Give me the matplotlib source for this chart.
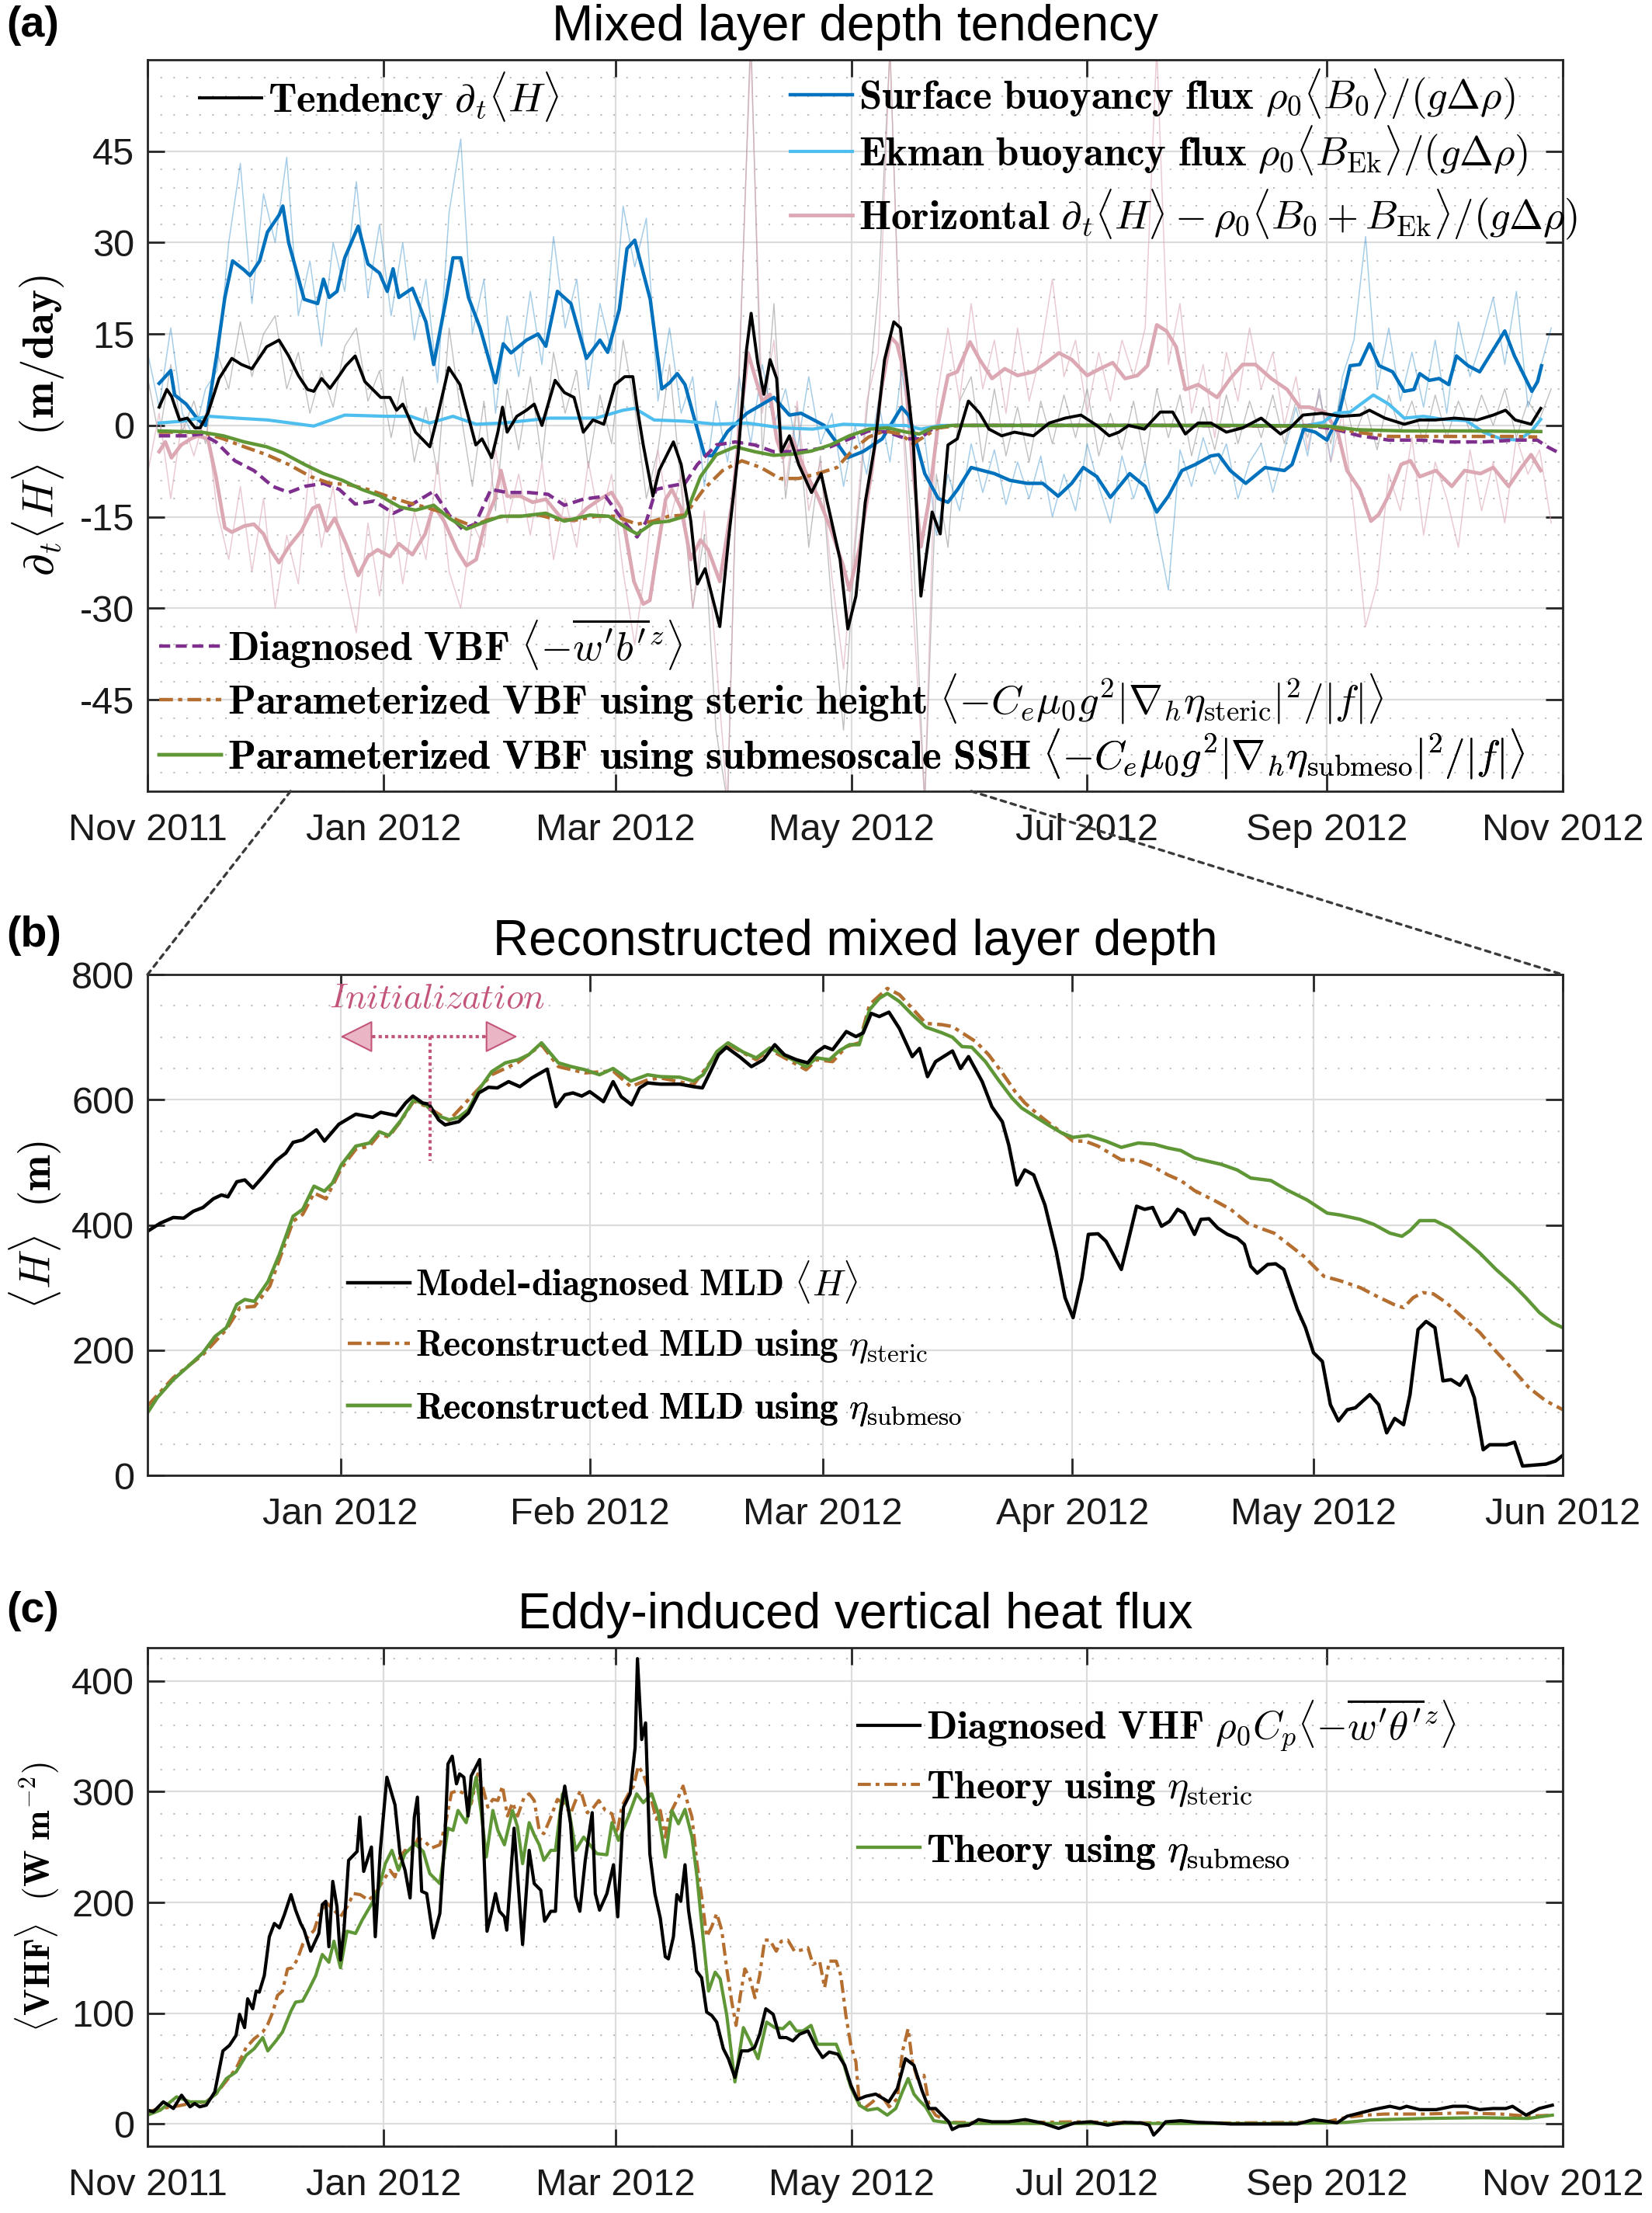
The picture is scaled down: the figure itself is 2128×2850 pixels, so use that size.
import numpy as np
import matplotlib
matplotlib.use('Agg')
import matplotlib.pyplot as plt
import matplotlib.dates as mdates
from matplotlib.ticker import MultipleLocator, FixedLocator
from matplotlib.patches import ConnectionPatch

plt.rcParams['font.family'] = ['Liberation Sans', 'DejaVu Sans']
plt.rcParams['mathtext.fontset'] = 'cm'
plt.rcParams['axes.unicode_minus'] = False

BASE_A = '2011-11-01'
BASE_B = '2011-12-08'

# ---------------- Panel (a) data (day offsets from 1 Nov 2011) ----------------
raw_days = np.arange(0, 364, 3)
a_sfc_raw = [12, 3, 16, 2, -2, 6, 9, 30, 43, 20,
             38, 30, 44, 18, 27, 13, 30, 22, 40, 21,
             33, 18, 30, 14, 24, 7, 35, 47, 15, 24,
             2, 18, 8, 22, 10, 31, 16, 24, 6, 20,
             12, 36, 26, 34, 4, 16, 2, 8, -10, 4,
             -6, 8, -3, 10, 0, 6, -4, 8, -3, 2,
             -10, 0, -8, 4, -6, 9, -3, -2, -18, -8,
             -14, -3, -11, -4, -13, -6, -12, -5, -15, -8,
             -14, -3, -10, -16, -5, -12, -6, -17, -27, -4,
             -10, -2, -8, -3, -12, -6, -3, -11, -4, 3,
             -5, 6, -6, 8, 14, 31, 6, 16, 4, 12,
             3, 14, 2, 17, 8, 14, 21, 10, 22, 3,
             9, 16]
a_tend_raw = [8, -2, 10, -1, 4, -3, 12, 6, 17, 8,
              15, 18, 6, 12, 2, 9, 3, 13, 16, 4,
              9, -2, 8, -6, 3, -8, 16, 2, -10, 4,
              -14, 6, -4, 8, -6, 12, 2, 9, -7, 5,
              -3, 14, 3, -12, -4, 10, -10, -30, -18, -50,
              -62, 8, 65, -5, 20, -12, 3, -20, -5, -30,
              -50, -20, 2, 22, 62, 5, -20, -62, -8, -20,
              4, 8, -6, 6, -5, 3, -6, 4, -3, 5,
              -2, 6, -5, 2, -4, 4, -6, 6, -2, 5,
              -5, 3, -4, 5, -3, 4, -2, 5, -3, 4,
              -2, 5, -3, 6, -2, 3, -4, 5, -1, 4,
              -3, 5, -2, 4, -1, 5, 0, 6, -2, 4,
              1, 6]
a_hor_raw = [-8, 2, -12, 1, -5, 2, -14, -22, -10, -24,
             -12, -30, -18, -26, -6, -20, -10, -25, -34, -16,
             -28, -12, -26, -14, -22, -6, -24, -30, -16, -20,
             -4, -16, -8, -18, -6, -22, -12, -20, -6, -16,
             -8, -24, -36, -22, -4, -16, -8, -30, -14, -38,
             -62, 10, 62, 2, 14, -10, 4, -14, -6, -25,
             -40, -18, 4, 12, 62, 4, -30, -62, 4, 16,
             4, 20, 6, 14, 2, 16, 4, 12, 24, 8,
             14, 2, 12, 4, 14, 8, 16, 62, 10, 20,
             2, 10, -2, 12, 4, 16, 6, 12, 0, 8,
             -4, 6, -6, 2, -14, -33, -26, -8, -14, -2,
             -18, -6, -12, -20, -4, -14, -6, -16, -2, -8,
             -4, -16]

a_sfc_day = [3, 6, 7, 10, 13, 15, 18, 20, 22, 25, 26.5, 29, 31, 34, 35, 36.5, 40.5, 44, 45.5, 47,
             49, 51, 54.5, 57, 60, 62, 63.5, 65, 68.5, 72, 74, 77, 79, 81, 83, 86, 90, 92, 94, 98,
             101, 103, 106, 109.5, 113.5, 117, 119, 122, 124, 126, 130, 133, 135, 137, 139, 144, 146, 150, 155, 162,
             166, 169, 175, 181, 185, 190, 195, 197, 201, 204.5, 207, 209.5, 213, 216, 219, 223, 227.5, 231.5, 235.5, 239,
             242, 245.5, 249, 254, 258, 261, 264, 267.5, 271, 275, 277, 280, 284, 289, 294, 296, 299, 302, 305, 308,
             311, 313.5, 316, 318.5, 322, 325, 327.5, 329, 331.5, 334, 336.5, 338.5, 341.5, 344.5, 348, 351, 353.5, 358, 359.5, 360.5]
a_sfc_val = [6.9, 9, 5, 3.5, 1, 0, 12, 21, 27, 25.5, 24.6, 27, 31.7, 34.5, 36, 30, 20.7, 20, 24, 21,
             22, 27.5, 32.7, 26.5, 25, 22, 25.7, 21, 22.5, 17, 10, 20, 27.5, 27.5, 21, 16, 7, 13.4, 11.9, 14,
             15, 13, 22, 20, 11, 14, 12, 19, 29, 30.4, 20.7, 6, 7, 8.5, 6.7, -4.8, -5, -1, 2, 4.6,
             1.7, 2, 0, -5.3, -4.3, -2.2, 3, 1.5, -7.9, -12, -12.6, -10.5, -6.9, -7.4, -7.9, -9, -9.5, -9.5, -11.6, -9.5,
             -6.9, -8.4, -11.8, -7.9, -10, -14.2, -11.6, -7.4, -6.4, -5, -4.8, -7.4, -9.5, -6.9, -7.4, -6.4, -0.6, -1.1, -2.4, 1.5,
             9.8, 10, 13.4, 9.8, 8.8, 5.6, 5.9, 8.5, 7.4, 7.7, 6.7, 11.4, 9.8, 8.8, 12.4, 15.5, 11.4, 5.6, 7.2, 9.8]

a_tend_day = [3, 5, 6.2, 8.3, 10.3, 12.3, 13.6, 15.6, 18.5, 21.8, 24.3, 27, 30.8, 34, 36.5, 39, 41.4, 43, 45, 47.2,
              49.6, 51.3, 53.7, 56.2, 60.3, 62.7, 64.4, 66, 69.3, 73, 75, 77.9, 80.8, 83.2, 84.9, 86.5, 89, 90.6, 91.8, 93,
              95.5, 98, 100, 102, 105.4, 107.8, 110.3, 112.7, 115.2, 118, 120.9, 123.4, 125.5, 126.6, 128.2, 130.7, 132.3, 136, 138, 140.5,
              142.2, 144.2, 148, 150.4, 152.8, 154.9, 156.1, 157.8, 159.4, 161, 162.7, 163.9, 166, 168.4, 171.7, 174.2, 175.8, 179.1, 181.1, 183.2,
              185.6, 188.1, 190.6, 193, 194.7, 196.3, 198, 200, 202.9, 205, 207, 209.4, 212.3, 215.2, 217.6, 220.9, 224.2, 229.1, 233.2, 237.3,
              241.4, 245.5, 248.7, 251.2, 253.7, 257.8, 261.9, 265.1, 268.4, 271.7, 275, 279, 283.2, 288, 293, 295.5, 298.8, 303.7, 308.6, 313.5,
              316, 320, 325, 329, 333, 338, 343.9, 348, 351.2, 353.7, 357.8, 360.3]
a_tend_val = [3, 5.9, 4.8, 0.9, 1.2, -0.4, -0.4, 2, 7.7, 11, 10, 9.3, 12.9, 14, 11.4, 8.2, 5.9, 5.6, 7.7, 6.1,
              8.2, 9.8, 11.4, 7.2, 4.6, 4.6, 2.5, 3.5, -1.1, -3.5, 1.5, 9.5, 6.7, 0.9, -3.2, -2.2, -5.3, -1.1, 3, -1.1,
              1.5, 2.5, 3.5, 0, 7.4, 5.4, 4.6, -1.1, 0.9, 0.2, 6.7, 8, 8, 3, -3.2, -11.6, -7.4, -2.7, -6.4, -15.7,
              -26, -23.5, -33, -17.8, -4.3, 12.4, 18.4, 10.3, 5.1, 10.8, 7.7, -4.3, -1.7, -6.4, -11, -7.9, -12.6, -22, -33.4, -28,
              -12.6, -3.2, 10.8, 17, 16, 7.7, -2.2, -28, -14.2, -17.8, -3.2, -2.2, 4, 2, -0.6, -1.7, -1.1, -1.7, 0.4, 1.2,
              1.7, 0, -1.7, -1.1, 0, -0.6, 2.2, 2.2, -1.4, 0.4, 0.4, -1.1, -0.4, 1.2, -1.4, -0.4, 1.7, 2, 1.5, 1.7,
              2.5, 1.2, 0.2, 0.9, 0.9, 1.2, 0.9, 1.7, 2.5, 0.9, 0.2, 2.8]

a_ek_day = [3, 9, 16, 23, 31, 43, 51, 62, 68, 73, 79, 85, 92, 104, 116, 123, 126, 131, 139, 147,
            155, 164, 172, 180, 188, 196, 200, 205, 220, 240, 260, 280, 300, 304, 307, 311, 317, 321, 325, 330,
            335, 341, 345.5, 350, 354.5, 357.8, 360.3]
a_ek_val = [0.4, 0.7, 1.5, 1.2, 0.9, -0.1, 1.7, 1.5, 1.5, 0.4, 1.5, 0.2, 0.4, 1.2, 1.2, 2.5, 2.8, 0.9, 0.7, 0.2,
            0.4, -0.4, -0.6, 0.2, 0, 0, -0.6, 0, 0, 0, 0, 0, 0, 0.5, 2, 2.2, 5, 3.5, 1.2, 1.5,
            1, 0.8, -1.1, -2.2, -2.4, -1, 1]

a_hor_day = [3, 4.6, 6.2, 8.7, 11.2, 13, 15.6, 17.7, 20, 21.8, 25, 27.5, 30, 31.6, 34, 36.5, 39.8, 42.7, 44.3, 46.4,
             48.4, 51.3, 54.5, 57, 59.5, 62.7, 65, 68.5, 71.8, 74, 76.7, 80, 82.5, 85, 87.4, 89.8, 91.4, 93, 96.4, 99.6,
             103, 107, 110.3, 113.6, 117, 120, 122.5, 125.8, 128.2, 129.9, 131.5, 134, 135.6, 138, 140.5, 143, 145, 148, 151.2, 153.7,
             155.3, 157, 159, 161, 162.7, 164.3, 166.8, 170, 173.3, 176.6, 179.9, 181.5, 184, 187.3, 189.7, 192.2, 193.8, 195.9, 198, 200,
             202, 204.5, 207, 209.4, 212.7, 215.2, 218.4, 221.7, 225, 229.1, 232.4, 235.7, 239, 243, 246.3, 249.6, 252.8, 256, 258.6, 261,
             263.5, 266, 268.4, 271.7, 276.6, 280, 283.2, 286.5, 290.6, 294.7, 298, 300.4, 304.5, 307.8, 310.2, 313.5, 316.4, 318.4, 320.9, 324.2,
             326.6, 329, 333.2, 337.3, 340.6, 344.7, 348, 352, 355.3, 357.8, 360.3]
a_hor_val = [-4.3, -2.7, -5.3, -3.2, -2.2, -1.7, -2.2, -8.4, -16.8, -17.5, -16.5, -16.2, -17.8, -20.2, -22.5, -19.9, -17.3, -13.6, -13.1, -17.3,
             -15.2, -19.4, -24.6, -21.5, -20.4, -21.5, -19.4, -21.2, -17.8, -13.1, -15.7, -20.4, -23, -22, -15.7, -12.1, -7.4, -11.6, -11.6, -12.6,
             -12.1, -15.2, -15.7, -13.6, -12.1, -11, -13.6, -25.6, -29.3, -28.7, -22, -12.1, -10.5, -13.6, -22, -18.8, -20.4, -25.6, -12.6, 3,
             11.9, 8.2, 4, 5.1, -2.2, -5.3, -2.2, -7.4, -11.6, -16.8, -23, -27, -20.4, -7.4, 5.6, 14.5, 13.4, 8.2, -7.4, -19.9,
             -12.6, 0.4, 8.2, 8.8, 13.7, 10.8, 7.7, 9.3, 8.2, 8.8, 10.3, 11.9, 10.8, 8.2, 9.3, 10.3, 7.7, 8.2, 9.8, 16.5,
             15.5, 12.9, 5.9, 6.7, 4.6, 7.7, 10, 10, 7.7, 5.9, 3, 3, 2.2, -1.1, -7.4, -10.5, -15.7, -14.6, -11.6, -6.4,
             -5.8, -8.4, -7.4, -10, -7.4, -7.9, -6.9, -10, -6.9, -4.8, -7.4]

a_vbf_day = [3, 10, 14, 17.7, 22.6, 27.5, 32.4, 36.5, 40.6, 45.5, 49.6, 53.7, 58.6, 63.6, 68.5, 74, 78, 81.4, 84.7, 88.8,
             93, 98.6, 103.6, 107.8, 112.7, 118.4, 122.5, 126.6, 129, 131.5, 134.8, 139, 142.2, 147.1, 152, 157, 161.9, 166.8, 171.7, 176.6,
             181.5, 186.5, 191.4, 196.3, 199.6, 202.9, 207.8, 230, 260, 290, 300.4, 307, 313.5, 321, 329, 337, 345.5, 353.7, 359.4, 362, 364.4]
a_vbf_val = [-1.7, -1.7, -1.4, -2.7, -5.8, -7.4, -10, -11, -10, -9.5, -10.5, -12.9, -12.4, -14.4, -12.9, -10.8, -14.7, -17, -16.2, -10.5,
             -11, -11, -11.3, -13.1, -12.1, -11.6, -15.2, -18.3, -15.7, -10.5, -10, -9.5, -6.4, -3.2, -2.7, -3.2, -4.3, -4.3, -4, -3.5,
             -2.2, -0.9, -1.1, -2.2, -2.2, -0.6, 0, 0, 0, -0.1, 0, -0.6, -1.7, -2.4, -2.4, -2.7, -2.7, -2.4, -2.4, -3.5, -4.3]

a_ste_day = [3, 14, 19.6, 25, 30.8, 36.5, 42.2, 47.2, 52, 57, 62, 67, 71.8, 76, 80, 84, 88, 92, 96.4, 101.3,
             106.2, 111, 116, 121, 126.6, 130.7, 134.8, 139, 143.8, 148.7, 153.7, 158.6, 163.5, 168.4, 173.3, 178.3, 182.4, 186.5, 190.6, 194.7,
             198, 201.2, 204.5, 210, 240, 270, 300, 304.5, 312.7, 321, 333, 345.5, 353.7, 359.4]
a_ste_val = [-1.1, -1.1, -2.2, -3.5, -4.8, -6.4, -8.4, -9.5, -9.7, -10.5, -11.6, -12.6, -13.4, -14.2, -15.5, -16.5, -15.5, -14.9, -14.9, -14.7,
             -15.5, -15.5, -14.9, -14.9, -16.2, -15.7, -14.9, -14.7, -10.5, -7.4, -5.8, -6.9, -8.7, -8.7, -7.9, -6.9, -4, -1.9, -0.9, -1.4,
             -3, -1.7, -0.4, 0, 0, 0, -0.1, -0.2, -1.1, -1.8, -1.8, -1.8, -1.8, -1.9]

a_sub_day = [3, 14, 19.6, 25, 30.8, 35, 40.6, 45.5, 50.4, 55.4, 60.3, 65.3, 69.3, 74, 78, 82.5, 86.5, 91.4, 96.4, 103,
             107.8, 114.4, 119.3, 124.3, 126.6, 130.7, 134.8, 139, 143, 147.1, 152, 157, 161.9, 166.8, 171.7, 176.6, 181.5, 186.5, 191.4, 196.3,
             199.6, 202.9, 208, 240, 280, 305, 312.7, 325, 341, 360.3]
a_sub_val = [-0.9, -1.1, -1.7, -2.7, -3.5, -4.5, -6.4, -7.9, -9, -10.5, -11.6, -13.4, -13.9, -13.1, -15.2, -17, -16, -14.9, -14.9, -14.4,
             -15.7, -14.7, -14.9, -17, -17.8, -16, -15.7, -14.9, -8.4, -4.8, -3.5, -4.3, -4.9, -4.7, -4.2, -3.2, -1.7, -0.6, -0.4, -1.1,
             -1.4, -0.4, 0, 0, 0, -0.1, -0.7, -0.9, -0.9, -1]

# ---------------- Panel (b) data (day offsets from 8 Dec 2011) ----------------
b_mld_day = [0, 1.6, 3.2, 4.5, 5.7, 6.9, 8.2, 9.2, 10, 11.1, 12.1, 13.1, 14.4, 16, 17.2, 18.1, 19.3, 21, 22, 23.8,
             25.9, 28, 29, 30.9, 32.1, 33, 34.2, 35, 36.2, 37, 38.7, 39.9, 41.2, 42.4, 43.5, 44.9, 46.3, 47.8, 49.7, 50.8,
             51.9, 52.9, 54, 55, 56.7, 57.9, 58.9, 60.2, 61.2, 62.2, 63.8, 66.2, 67.9, 69, 70, 71, 72, 73.7, 75.1, 76.6,
             78, 79.2, 80.7, 82.1, 83.2, 84.2, 85.2, 86.9, 88.1, 89, 90, 91, 92.2, 93.5, 95.1, 96, 97, 98, 100.1, 101.1,
             102.1, 103.8, 105, 106.3, 107.1, 108.1, 109.1, 110.2, 111.6, 113, 114.1, 115.1, 116.2, 117, 118.2, 119.2, 121.1, 123, 124, 125,
             126.1, 127.1, 128.1, 128.9, 130.2, 131, 132, 133.1, 134.3, 135.5, 136.4, 137.2, 138, 139.3, 140.3, 141.3, 143, 144, 145, 146.1,
             147.1, 148.1, 149.2, 150.2, 152, 153.1, 154.1, 155.1, 156.2, 157, 158, 159, 160.1, 161.1, 162.1, 163.2, 164, 165, 166.1, 166.9,
             169, 170, 171, 173.9, 175.1, 176.2]
b_mld_val = [390, 403, 412, 411, 422, 428, 442, 448, 445, 469, 472, 459, 478, 503, 515, 532, 536, 552, 534, 561,
             577, 572, 580, 575, 595, 606, 595, 593, 568, 560, 565, 579, 611, 620, 619, 629, 621, 635, 649, 589,
             608, 611, 606, 613, 597, 629, 605, 592, 619, 627, 625, 625, 621, 619, 645, 672, 684, 668, 653, 664,
             688, 672, 664, 659, 676, 685, 680, 709, 701, 707, 738, 733, 740, 714, 669, 682, 637, 661, 678, 650,
             669, 629, 589, 565, 528, 464, 488, 480, 432, 358, 284, 252, 315, 385, 386, 374, 329, 430, 425, 428,
             398, 406, 425, 419, 385, 409, 410, 395, 385, 379, 369, 334, 323, 337, 338, 329, 265, 236, 196, 182,
             113, 87, 105, 108, 129, 113, 68, 91, 81, 129, 233, 246, 236, 151, 153, 144, 159, 124, 41, 49,
             49, 53, 15, 18, 23, 34]

b_sub_day = [0, 1.2, 3.2, 5.3, 6.9, 8.4, 9.8, 11.1, 12.1, 13.3, 15, 16.4, 18.1, 19.3, 20.7, 22, 23, 24.1, 25.9, 27.6,
             28.8, 30, 31.5, 33.1, 34.6, 35.8, 37.5, 38.7, 39.9, 41.2, 42.8, 44.5, 46.1, 47.4, 49, 51.1, 52.7, 54.4, 56.2, 57.9,
             60.1, 62.2, 63.8, 66.2, 67.9, 69.1, 70.8, 72.2, 74.1, 75.7, 77.4, 79, 80.7, 81.9, 83.2, 84.8, 86, 87.3, 88.5, 89.8,
             91, 92, 93.5, 95.1, 96.8, 98.8, 100.1, 101.3, 102.5, 104.2, 105.8, 107.5, 108.7, 110.4, 112, 113.7, 115.1, 117, 119.2, 121.1,
             123.2, 125.2, 126.9, 128.5, 130.2, 131.8, 133.5, 135.5, 137.2, 139.7, 141.7, 144.2, 146.7, 148.3, 150.8, 152.5, 154.5, 156, 157, 158.2,
             160.1, 162, 164, 165.7, 167.7, 169.8, 171.4, 173.1, 174.7, 176]
b_sub_val = [100, 124, 153, 177, 196, 222, 236, 273, 281, 278, 310, 353, 414, 425, 462, 454, 467, 496, 526, 531,
             549, 543, 567, 600, 592, 576, 568, 572, 584, 616, 645, 659, 664, 672, 691, 659, 653, 648, 640, 650,
             630, 640, 637, 636, 630, 640, 677, 691, 676, 667, 683, 672, 661, 653, 667, 664, 678, 688, 688, 744,
             762, 770, 757, 736, 716, 707, 700, 685, 684, 661, 632, 603, 587, 573, 560, 547, 540, 543, 534, 524,
             531, 529, 523, 519, 507, 502, 497, 488, 475, 471, 456, 440, 419, 416, 409, 401, 387, 382, 391, 407,
             407, 395, 374, 355, 329, 305, 284, 260, 244, 236]

b_ste_day = [0, 3.2, 6.9, 9.8, 11.5, 13.3, 15.2, 16.4, 18.1, 19.3, 20.7, 22.2, 24.1, 25.9, 27.6, 28.8, 30, 31.5, 33.1, 34.6,
             37.5, 42.8, 46.1, 49, 51.1, 54.4, 57.9, 60.1, 62.2, 63.8, 67.9, 70.8, 72.2, 75.7, 77.4, 81.9, 83.2, 85.2, 86.9, 88.5,
             89.8, 92, 93.5, 95.1, 96.8, 98.8, 100.1, 101.3, 103, 104.6, 106.3, 107.9, 109.1, 110.8, 112.4, 114.1, 115.1, 116.6, 118.2, 121.1,
             123, 124.8, 126.9, 128.5, 130.2, 132.7, 134.7, 136.8, 138.8, 140.1, 141.7, 143.8, 146.3, 148.3, 150.8, 152.9, 155, 156.2, 157.4, 158.6,
             159.9, 161.5, 163.6, 165.7, 167.7, 169.8, 171.8, 173.9, 176]
b_ste_val = [111, 156, 193, 233, 268, 270, 302, 345, 406, 417, 451, 442, 491, 521, 526, 545, 541, 566, 598, 590,
             567, 640, 660, 688, 653, 643, 646, 621, 632, 635, 624, 674, 688, 664, 680, 648, 664, 661, 685, 691,
             752, 778, 768, 746, 722, 720, 717, 707, 693, 672, 643, 613, 595, 576, 560, 544, 534, 534, 526, 504,
             504, 495, 480, 471, 455, 439, 425, 403, 393, 387, 371, 350, 318, 311, 300, 286, 273, 268, 284, 292,
             290, 276, 252, 228, 198, 169, 140, 119, 105]

# ---------------- Panel (c) data (day offsets from 1 Nov 2011) ----------------
c_vhf_day = [0, 1.5, 4.1, 6.7, 8.8, 11, 12.2, 13.5, 15.2, 17.4, 19.5, 21.2, 22.9, 23.8, 25.1, 25.9, 27.2, 28.1, 28.9, 30.2,
             31.5, 32.8, 34.1, 35.4, 37.1, 38.3, 39.6, 40.5, 42.2, 44.3, 45.2, 46.1, 46.9, 47.9, 49, 49.9, 50.8, 52, 54.2, 54.9,
             55.9, 57.9, 58.9, 60.2, 61.9, 64, 65.3, 66.6, 67.9, 69, 69.8, 70.9, 72.2, 73.9, 75.6, 76.9, 77.7, 78.8, 79.9, 80.7,
             81.8, 82.9, 83.7, 85.9, 86.7, 87.8, 88.9, 90, 91, 92.3, 92.9, 94.8, 97, 98.7, 100, 101.7, 102.7, 104.3, 105.5, 106.8,
             107.9, 109.4, 110.7, 111.8, 113.2, 115, 115.8, 116.9, 118.8, 120.5, 121.6, 123.1, 124.8, 126.1, 126.7, 127.8, 128.8, 129.9, 131.2, 132.6,
             133.9, 134.7, 136, 136.9, 137.9, 139, 139.9, 141.2, 142, 143.3, 144.6, 145.9, 147.2, 148.9, 150.2, 151.9, 153.6, 155.3, 157, 158.3,
             159.9, 161.8, 163.5, 165.2, 166.9, 168.6, 170.8, 172.9, 174.6, 176.3, 178.5, 180.3, 181.9, 183.6, 185.7, 188.3, 191.7, 193.9, 196, 198.2,
             200.3, 202.1, 203.8, 205.5, 207.2, 208.1, 209.8, 212.4, 214.9, 218.4, 222.7, 227, 231.3, 235.6, 239.8, 244, 248.3, 252.6, 256.9, 259,
             260.2, 261.6, 263.3, 267.2, 271.5, 275.8, 280.1, 284.4, 288.7, 293, 297.3, 301.6, 305.9, 307.6, 310.2, 313.6, 317, 321.3, 323.9, 325.6,
             329, 333.3, 337.6, 341, 344.5, 347.9, 351.3, 353, 356.5, 359.9, 363.3]
c_vhf_val = [12.5, 11, 20, 14, 26, 15.5, 18.5, 15.5, 17, 29, 66, 71, 80, 99, 87, 113, 104, 120, 119, 134,
             169, 181, 177, 189, 207, 193, 181, 175, 156, 172, 198, 201, 160, 219, 196, 148, 175, 238, 246, 277,
             228, 250, 169, 247, 313, 288, 244, 229, 204, 277, 295, 210, 208, 168, 190, 259, 325, 332, 307, 316,
             313, 278, 314, 329, 271, 174, 190, 208, 192, 187, 175, 267, 162, 247, 217, 211, 183, 192, 192, 280,
             305, 271, 205, 192, 238, 281, 208, 193, 208, 234, 187, 286, 298, 340, 420, 347, 362, 244, 208, 186,
             151, 149, 169, 207, 201, 234, 193, 162, 138, 132, 101, 98, 92, 68, 59, 42, 66, 66, 69, 81,
             104, 99, 78, 78, 75, 81, 84, 69, 60, 65, 63, 53, 35, 22, 25, 27, 20, 32, 59, 53,
             30, 14, 14, 8, 2, -5, -2, -1, 4, 2, 2, 4, 1, -4, 1, 2, -1, 1.5, 1, -1,
             -10, -5, 2, 3, 1.5, 1, 0, 0, 0, 0, 0, 4, 2, 1, 7, 10, 13, 16, 14, 16,
             13, 13, 16, 16, 13, 14, 14, 16, 8, 14, 17]

c_ste_day = [0, 3.3, 6.7, 11, 15.2, 17.8, 20.4, 22.9, 25.5, 27.6, 29.8, 31.1, 32.4, 33.6, 34.9, 36.2, 37.5, 38.8, 40.1, 41.3,
             43.1, 44.8, 46.5, 48.2, 49.9, 51.6, 53.3, 55, 57.2, 58.9, 61, 62.7, 64, 65.3, 66.6, 68.3, 70, 71.7, 73.4, 75.6,
             76.9, 78.6, 80.3, 82, 83.7, 85.4, 86.7, 88, 89.3, 90.6, 91.8, 93.1, 94.4, 95.7, 97.4, 98.7, 100, 101.3, 102.5, 104.3,
             106, 107.7, 109.4, 110.7, 112, 113.7, 115.4, 116.7, 118.4, 120.1, 121.4, 122.7, 124.4, 125.7, 126.9, 128.2, 129.9, 131.6,
             132.6, 133.9, 134.7, 136, 137.3, 138.5, 139.5, 140.8, 142.1, 143.3, 144.6, 145.9, 147.2, 148.5, 149.8, 151.1, 152.2, 153.3, 154.5, 155.8,
             157.1, 158.3, 159.6, 160.9, 162.6, 163.9, 165.6, 167.3, 169.1, 170.8, 172.1, 173.8, 175.1, 176.3, 178.1, 179.3, 180.6, 181.9, 183.2, 184.1,
             185.3, 187.5, 189.6, 191.8, 193.9, 195.2, 196.7, 197.8, 199.1, 200.8, 202.1, 203.8, 205.5, 208.1,
             220, 240, 260, 280, 300, 305, 310, 315, 320, 330, 340, 350, 357, 363.3]
c_ste_val = [11, 14, 15.5, 18.5, 20, 27.5, 39, 50, 69, 77, 83, 90, 101, 116, 120, 140, 141, 149, 162, 168,
             175, 193, 199, 193, 187, 196, 208, 207, 202, 208, 220, 229, 223, 241, 247, 244, 258, 255, 249, 252,
             268, 299, 301, 298, 289, 316, 304, 286, 293, 292, 305, 278, 290, 278, 295, 298, 292, 265, 262, 277,
             293, 289, 280, 292, 301, 281, 286, 292, 283, 280, 262, 287, 298, 305, 323, 316, 298, 275,
             283, 259, 277, 286, 295, 305, 292, 277, 235, 205, 169, 178, 190, 175, 140, 110, 89, 116, 140, 131,
             114, 134, 166, 166, 156, 165, 166, 156, 157, 159, 144, 147, 123, 147, 147, 134, 98, 71, 56, 17,
             14, 20, 27, 15.5, 23, 65, 86, 56, 41, 44, 17, 8, 5, 1.5,
             1, 2, 1, 1, 1.5, 2, 6, 8, 9, 9, 10, 9, 7, 8]

c_sub_day = [0, 3.3, 7.5, 11, 15.2, 17.8, 20.4, 22.9, 25.5, 27.6, 29.8, 31.1, 33.2, 34.9, 37.1, 38.3, 40.1, 41.8, 43.5, 45.2,
             46.9, 48.2, 49.9, 51.6, 53.8, 55.5, 58, 59.7, 61.5, 63.2, 64.9, 66.6, 69.2, 71.3, 73, 75.6, 77.7, 79, 80.3, 82.4,
             85, 86.3, 87.6, 89.3, 90.6, 92.3, 94.4, 95.7, 97, 98.7, 100, 101.3, 102.5, 104.3, 105.5, 107.3, 109, 110.7, 112.8, 116.2,
             118.8, 120.1, 121.8, 124.4, 126.5, 128.2, 130.4, 132.1,
             133.9, 135.6, 137.3, 139, 140.8, 142.1, 143.3, 145.1, 146.8, 148.1, 149.8, 151.9, 154.1, 155.8, 157.9, 160.1, 162.2, 164.3, 166.1, 167.8,
             169.5, 171.6, 173.3, 175.5, 178.1, 179.8, 181.9, 184.1, 186.2, 188.8, 191.3, 193.5, 195.2, 196.7, 198.2, 199.5, 201.2, 203.3, 206.3, 210,
             230, 250, 270, 290, 305, 310, 316, 330, 345, 357, 363.3]
c_sub_val = [8, 12.5, 24.5, 20, 20, 27.5, 41, 47, 62, 68, 78, 66, 75, 83, 102, 110, 111, 122, 134, 153,
             146, 165, 141, 174, 172, 184, 199, 211, 235, 247, 229, 244, 253, 246, 226, 217, 267, 265, 283, 272,
             313, 281, 241, 283, 265, 252, 283, 268, 235, 272, 261, 252, 238, 247, 247, 298, 283, 247, 259, 244,
             243, 272, 256, 278, 298, 290, 298, 280,
             241, 283, 271, 284, 259, 223, 181, 120, 137, 131, 98, 38, 87, 75, 59, 92, 87, 86, 92, 84,
             84, 89, 72, 72, 72, 57, 33, 17, 12.5, 14, 8, 14, 29, 41, 27, 21.5, 15.5, 3, 1.5, 0.5,
             0.5, 0.5, 0.5, 0.5, 1, 1.5, 3.6, 5, 5.7, 5, 8]

a_yticks = [-45, -30, -15, 0, 15, 30, 45]

# ---------------- Styling ----------------
C_BLUE = '#0072BD'
C_CYAN = '#4DBEEE'
C_PINK = '#dba8b4'
C_PURPLE = '#7E2F8E'
C_BROWN = '#b46e30'
C_GREEN = '#5f9636'
C_INIT = '#c4557a'
DASH = (0, (3.2, 1.6))
DASHDOT = (0, (4, 1.5, 1.2, 1.5))

TICK_FS = 35
TITLE_FS = 46


def dates(base, days):
    d = np.asarray(days, dtype=float)
    return np.datetime64(base, 's') + np.round(d * 86400).astype('timedelta64[s]')


def style_axes(ax, yminor):
    ax.set_axisbelow(True)
    ax.yaxis.set_minor_locator(MultipleLocator(yminor))
    ax.grid(True, which='major', color='#dcdcdc', lw=1.6)
    ax.grid(True, which='minor', axis='y', color='#bdbdbd', lw=1.5, linestyle=(0, (1, 7)))
    ax.tick_params(which='major', direction='in', length=16, width=2, top=True, right=True,
                   labelsize=TICK_FS, colors='#262626')
    ax.tick_params(axis='x', pad=20)
    ax.tick_params(axis='y', pad=12)
    ax.tick_params(which='minor', length=0)
    for s in ax.spines.values():
        s.set_linewidth(2)
        s.set_color('#262626')
    for lab in ax.get_xticklabels() + ax.get_yticklabels():
        lab.set_color('#1a1a1a')


def leg1(ax, handle, label, x, y, fs):
    hl = 80.0 / (fs * 100.0 / 72.0)
    lg = ax.legend([handle], [label], loc='center left', bbox_to_anchor=(x, y), frameon=False,
                   handlelength=hl, handletextpad=0.15, borderpad=0, borderaxespad=0,
                   prop=dict(family='DejaVu Serif', weight='bold', size=fs))
    ax.add_artist(lg)
    return lg


fig = plt.figure(figsize=(21.28, 28.5), dpi=100)
L, W = 0.0893, 0.8567
ax_a = fig.add_axes([L, 0.6425, W, 0.3305])
ax_b = fig.add_axes([L, 0.3333, W, 0.2263])
ax_c = fig.add_axes([L, 0.0302, W, 0.2253])

# ---------------- Panel (a) ----------------
FS_A = 38
ax = ax_a
ax.plot(dates(BASE_A, raw_days), a_tend_raw, color='0.45', lw=1.0, alpha=0.45)
ax.plot(dates(BASE_A, raw_days), a_sfc_raw, color=C_BLUE, lw=1.1, alpha=0.35)
ax.plot(dates(BASE_A, raw_days), a_hor_raw, color=C_PINK, lw=1.1, alpha=0.6)
h_hor, = ax.plot(dates(BASE_A, a_hor_day), a_hor_val, color=C_PINK, lw=3.4)
h_sfc, = ax.plot(dates(BASE_A, a_sfc_day), a_sfc_val, color=C_BLUE, lw=3.2)
h_ek, = ax.plot(dates(BASE_A, a_ek_day), a_ek_val, color=C_CYAN, lw=3.0)
h_vbf, = ax.plot(dates(BASE_A, a_vbf_day), a_vbf_val, color=C_PURPLE, lw=3.2, linestyle=DASH)
h_ste, = ax.plot(dates(BASE_A, a_ste_day), a_ste_val, color=C_BROWN, lw=3.2, linestyle=DASHDOT)
h_sub, = ax.plot(dates(BASE_A, a_sub_day), a_sub_val, color=C_GREEN, lw=3.2)
h_tend, = ax.plot(dates(BASE_A, a_tend_day), a_tend_val, color='black', lw=2.8)
ax.set_xlim(np.datetime64('2011-11-01'), np.datetime64('2012-11-01'))
ax.set_ylim(-60, 60)
ax.yaxis.set_major_locator(FixedLocator(a_yticks))
ax.xaxis.set_major_locator(mdates.MonthLocator(bymonth=[1, 3, 5, 7, 9, 11]))
ax.xaxis.set_major_formatter(mdates.DateFormatter('%b %Y'))
style_axes(ax, 3)
ax.set_title('Mixed layer depth tendency', fontsize=TITLE_FS, pad=18)
ax.set_ylabel(r'$\partial_t\langle H\rangle\ \ \mathbf{(m/day)}$', fontsize=41)
ax.yaxis.set_label_coords(-0.057, 0.5)

leg1(ax, h_tend, r'$\mathbf{Tendency}\ \partial_t\langle H\rangle$', 0.037, 0.949, FS_A)
leg1(ax, h_sfc, r'$\mathbf{Surface\ buoyancy\ flux}\ \rho_0\langle B_0\rangle/(g\Delta\rho)$', 0.454, 0.953, FS_A)
leg1(ax, h_ek, r'$\mathbf{Ekman\ buoyancy\ flux}\ \rho_0\langle B_{\mathrm{Ek}}\rangle/(g\Delta\rho)$', 0.454, 0.875, FS_A)
leg1(ax, h_hor, r'$\mathbf{Horizontal}\ \partial_t\langle H\rangle-\rho_0\langle B_0+B_{\mathrm{Ek}}\rangle/(g\Delta\rho)$', 0.454, 0.788, FS_A)
leg1(ax, h_vbf, r'$\mathbf{Diagnosed\ VBF}\ \langle{-}\overline{w^{\prime}b^{\prime}}^{z}\rangle$', 0.008, 0.2006, FS_A)
leg1(ax, h_ste, r'$\mathbf{Parameterized\ VBF\ using\ steric\ height}\ \langle{-}C_e\mu_0 g^2|\nabla_h\eta_{\mathrm{steric}}|^2/|f|\rangle$', 0.008, 0.1253, FS_A)
leg1(ax, h_sub, r'$\mathbf{Parameterized\ VBF\ using\ submesoscale\ SSH}\ \langle{-}C_e\mu_0 g^2|\nabla_h\eta_{\mathrm{submeso}}|^2/|f|\rangle$', 0.008, 0.05, FS_A)

# ---------------- Panel (b) ----------------
FS_B = 34
ax = ax_b
hb_ste, = ax.plot(dates(BASE_B, b_ste_day), b_ste_val, color=C_BROWN, lw=3.2, linestyle=DASHDOT)
hb_sub, = ax.plot(dates(BASE_B, b_sub_day), b_sub_val, color=C_GREEN, lw=3.2)
hb_mld, = ax.plot(dates(BASE_B, b_mld_day), b_mld_val, color='black', lw=3.2)
ax.set_xlim(np.datetime64('2011-12-08'), np.datetime64('2012-06-01'))
ax.set_ylim(0, 800)
ax.yaxis.set_major_locator(MultipleLocator(200))
ax.xaxis.set_major_locator(mdates.MonthLocator(bymonth=[1, 2, 3, 4, 5, 6]))
ax.xaxis.set_major_formatter(mdates.DateFormatter('%b %Y'))
style_axes(ax, 50)
ax.set_title('Reconstructed mixed layer depth', fontsize=TITLE_FS, pad=18)
ax.set_ylabel(r'$\langle H\rangle\ \ \mathbf{(m)}$', fontsize=40)
ax.yaxis.set_label_coords(-0.059, 0.5)

# Initialization marker
x_init = dates(BASE_B, [24.7, 35.1, 45.3])
ax.plot([x_init[0], x_init[2]], [701, 701], color=C_INIT, lw=3, linestyle=(0, (1, 1)))
ax.plot([x_init[1], x_init[1]], [701, 502], color=C_INIT, lw=3, linestyle=(0, (1, 1)))
head_tips = dates(BASE_B, [24.0, 46.0])
head_tails = dates(BASE_B, [28.0, 42.0])
for tip, tail in zip(head_tips, head_tails):
    ax.annotate('', xy=(tip, 701), xytext=(tail, 701),
                arrowprops=dict(arrowstyle='-|>,head_length=0.9,head_width=0.45', mutation_scale=30,
                                fc='#eab6c5', ec=C_INIT, lw=1.5, shrinkA=0, shrinkB=0))
ax.text(dates(BASE_B, [36.0])[0], 762, r'$\mathit{Initialization}$', color=C_INIT,
        fontsize=33, ha='center', va='center')

leg1(ax, hb_mld, r'$\mathbf{Model}$-$\mathbf{diagnosed\ MLD}\ \langle H\rangle$', 0.1415, 0.386, FS_B)
leg1(ax, hb_ste, r'$\mathbf{Reconstructed\ MLD\ using}\ \eta_{\mathrm{steric}}$', 0.1415, 0.257, FS_B)
leg1(ax, hb_sub, r'$\mathbf{Reconstructed\ MLD\ using}\ \eta_{\mathrm{submeso}}$', 0.1415, 0.132, FS_B)

# ---------------- Panel (c) ----------------
FS_C = 37
ax = ax_c
hc_ste, = ax.plot(dates(BASE_A, c_ste_day), c_ste_val, color=C_BROWN, lw=3.0, linestyle=DASHDOT)
hc_sub, = ax.plot(dates(BASE_A, c_sub_day), c_sub_val, color=C_GREEN, lw=3.0)
hc_vhf, = ax.plot(dates(BASE_A, c_vhf_day), c_vhf_val, color='black', lw=3.0)
ax.set_xlim(np.datetime64('2011-11-01'), np.datetime64('2012-11-01'))
ax.set_ylim(-20, 430)
ax.yaxis.set_major_locator(MultipleLocator(100))
ax.xaxis.set_major_locator(mdates.MonthLocator(bymonth=[1, 3, 5, 7, 9, 11]))
ax.xaxis.set_major_formatter(mdates.DateFormatter('%b %Y'))
style_axes(ax, 20)
ax.set_title('Eddy-induced vertical heat flux', fontsize=TITLE_FS, pad=18)
ax.set_ylabel(r'$\langle\mathbf{VHF}\rangle\ \ \mathbf{(W\ m^{-2})}$', fontsize=33)
ax.yaxis.set_label_coords(-0.061, 0.5)

leg1(ax, hc_vhf, r'$\mathbf{Diagnosed\ VHF}\ \rho_0 C_p\langle{-}\overline{w^{\prime}\theta^{\prime}}^{z}\rangle$', 0.502, 0.844, FS_C)
leg1(ax, hc_ste, r'$\mathbf{Theory\ using}\ \eta_{\mathrm{steric}}$', 0.502, 0.717, FS_C)
leg1(ax, hc_sub, r'$\mathbf{Theory\ using}\ \eta_{\mathrm{submeso}}$', 0.502, 0.590, FS_C)

# ---------------- Zoom connectors between (a) and (b) ----------------
for xd in ['2011-12-08', '2012-06-01']:
    xn = mdates.date2num(np.datetime64(xd))
    cp = ConnectionPatch(xyA=(xn, -60), coordsA=ax_a.transData, xyB=(xn, 800), coordsB=ax_b.transData,
                         color='#3a3a3a', lw=2.4, linestyle=(0, (2, 2)), zorder=10)
    fig.add_artist(cp)

# Panel letters
fig.text(0.004, 0.9884, '(a)', fontsize=40, fontweight='bold', va='center', ha='left')
fig.text(0.004, 0.5772, '(b)', fontsize=40, fontweight='bold', va='center', ha='left')
fig.text(0.004, 0.2719, '(c)', fontsize=40, fontweight='bold', va='center', ha='left')

fig.savefig('out.png', dpi=100)
